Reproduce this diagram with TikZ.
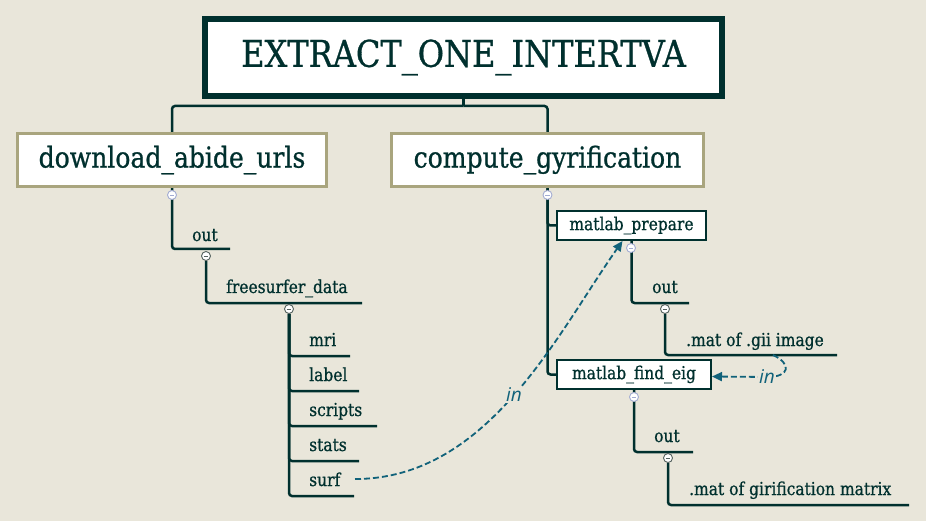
\documentclass[tikz,border=0pt]{standalone}
\usepackage{fontspec}
\setmainfont[FakeStretch=0.87,FakeBold=0.8]{DejaVu Serif}
\newfontfamily\insans{Open Sans}
\usetikzlibrary{arrows.meta}
\definecolor{bgc}{HTML}{E9E6DA}
\definecolor{dk}{HTML}{00302E}
\definecolor{tanc}{HTML}{A9A57E}
\definecolor{lnk}{HTML}{11627A}
\definecolor{knoblt}{HTML}{A3ACD2}
\definecolor{knobdk}{HTML}{55625F}
\pgfdeclarelayer{bgl}
\pgfdeclarelayer{edges}
\pgfsetlayers{bgl,edges,main}
\begin{document}
\begin{tikzpicture}[x=1pt,y=-1pt,
 titlebox/.style={draw=dk, line width=6pt, fill=white, minimum width=517pt, minimum height=77pt, inner sep=0pt, font=\fontsize{36.8}{40}\selectfont, text=dk},
 mainbox/.style={draw=tanc, line width=3pt, fill=white, minimum height=53pt, inner sep=0pt, font=\fontsize{28.8}{32}\selectfont, text=dk},
 subbox/.style={draw=dk, line width=2pt, fill=white, minimum height=29pt, inner sep=0pt, font=\fontsize{17.8}{20}\selectfont, text=dk},
 lbl/.style={inner sep=0pt, anchor=base west, font=\fontsize{17.8}{20}\selectfont, text=dk},
 tree/.style={draw=dk, line width=2.5pt, rounded corners=3pt},
 knobbase/.style={circle, fill=white, line width=0.9pt, minimum size=9pt, inner sep=0pt},
 knobA/.style={knobbase, draw=knoblt, path picture={\draw[knoblt, line width=0.9pt] ([xshift=-2.3pt]path picture bounding box.center) -- ([xshift=2.3pt]path picture bounding box.center);}},
 knobB/.style={knobbase, draw=knobdk, path picture={\draw[knobdk, line width=0.9pt] ([xshift=-2.3pt]path picture bounding box.center) -- ([xshift=2.3pt]path picture bounding box.center);}},
 flow/.style={draw=lnk, line width=1.8pt, dash pattern=on 6pt off 3pt, -{Triangle[length=10pt,width=9pt]}},
 inlbl/.style={font=\insans\itshape\fontsize{19}{22}\selectfont, text=lnk, fill=bgc, inner sep=1pt}
]
\begin{pgfonlayer}{bgl}
\fill[bgc] (0,0) rectangle (926,521);
\end{pgfonlayer}
\useasboundingbox (0,0) rectangle (926,521);

% boxes
\node[titlebox] (root) at (463.5,57.5) {EXTRACT\_ONE\_INTERTVA};
\node[mainbox, minimum width=309pt] (dl) at (172,160) {download\_abide\_urls};
\node[mainbox, minimum width=312pt] (cg) at (547.5,160) {compute\_gyrification};
\node[subbox, minimum width=149pt] (mp) at (631.5,225.5) {matlab\_prepare};
\node[subbox, minimum width=154pt] (mf) at (634,374.5) {matlab\_find\_eig};

% labels
\node[lbl] (out1) at (192,241) {out};
\node[lbl] (fsd) at (226,293) {freesurfer\_data};
\node[lbl] (mri) at (309,346) {mri};
\node[lbl] (label) at (309,381) {label};
\node[lbl] (scripts) at (309,416) {scripts};
\node[lbl] (stats) at (309,451) {stats};
\node[lbl] (surf) at (309,486) {surf};
\node[lbl] (out2) at (652,293) {out};
\node[lbl] (gii) at (686,346) {.mat of .gii image};
\node[lbl] (out3) at (654,442) {out};
\node[lbl] (gmat) at (689,495) {.mat of girification matrix};

% knobs
\node[knobA] (k1) at (172,195) {};
\node[knobB] (k2) at (206,256) {};
\node[knobB] (k3) at (289,309) {};
\node[knobA] (k4) at (547.5,195) {};
\node[knobA] (k5) at (631,248) {};
\node[knobB] (k6) at (665,309) {};
\node[knobA] (k7) at (634,397) {};
\node[knobB] (k8) at (668,458) {};

% line ends
\coordinate (jn) at (463.5,106);
\coordinate (e-out1) at (230,249);
\coordinate (e-fsd) at (362,303);
\coordinate (e-mri) at (350,356);
\coordinate (e-label) at (359,391);
\coordinate (e-scripts) at (377,426);
\coordinate (e-stats) at (359,461);
\coordinate (e-surf) at (354,496);
\coordinate (e-out2) at (689,303);
\coordinate (e-gii) at (837,355);
\coordinate (e-out3) at (693,452);
\coordinate (e-gmat) at (909,505);
\coordinate (gii-in) at (773,355);
\coordinate (surf-out) at (355,479);

\begin{pgfonlayer}{edges}
\draw[tree] (root.south) -- (jn);
\draw[tree] (jn) -| (dl.north);
\draw[tree] (jn) -| (cg.north);
\draw[tree] (dl.south) |- (e-out1);
\draw[tree] (k2) |- (e-fsd);
\draw[tree] (k3) |- (e-mri);
\draw[tree] (k3) |- (e-label);
\draw[tree] (k3) |- (e-scripts);
\draw[tree] (k3) |- (e-stats);
\draw[tree] (k3) |- (e-surf);
\draw[tree] (cg.south) |- (mp.west);
\draw[tree] (cg.south) |- (mf.west);
\draw[tree] (mp.south) |- (e-out2);
\draw[tree] (k6) |- (e-gii);
\draw[tree] (mf.south) |- (e-out3);
\draw[tree] (k8) |- (e-gmat);
\end{pgfonlayer}

% data flows
\draw[flow] (surf-out) .. controls (488,479) and (557,334) .. ([xshift=-9pt]mp.south)
  node[inlbl, pos=0.5] {in};
\draw[flow] (gii-in) .. controls (792,364) and (790,377) .. (767,377)
  -- ([yshift=-2pt]mf.east) node[inlbl, pos=0] {in};
\end{tikzpicture}
\end{document}
